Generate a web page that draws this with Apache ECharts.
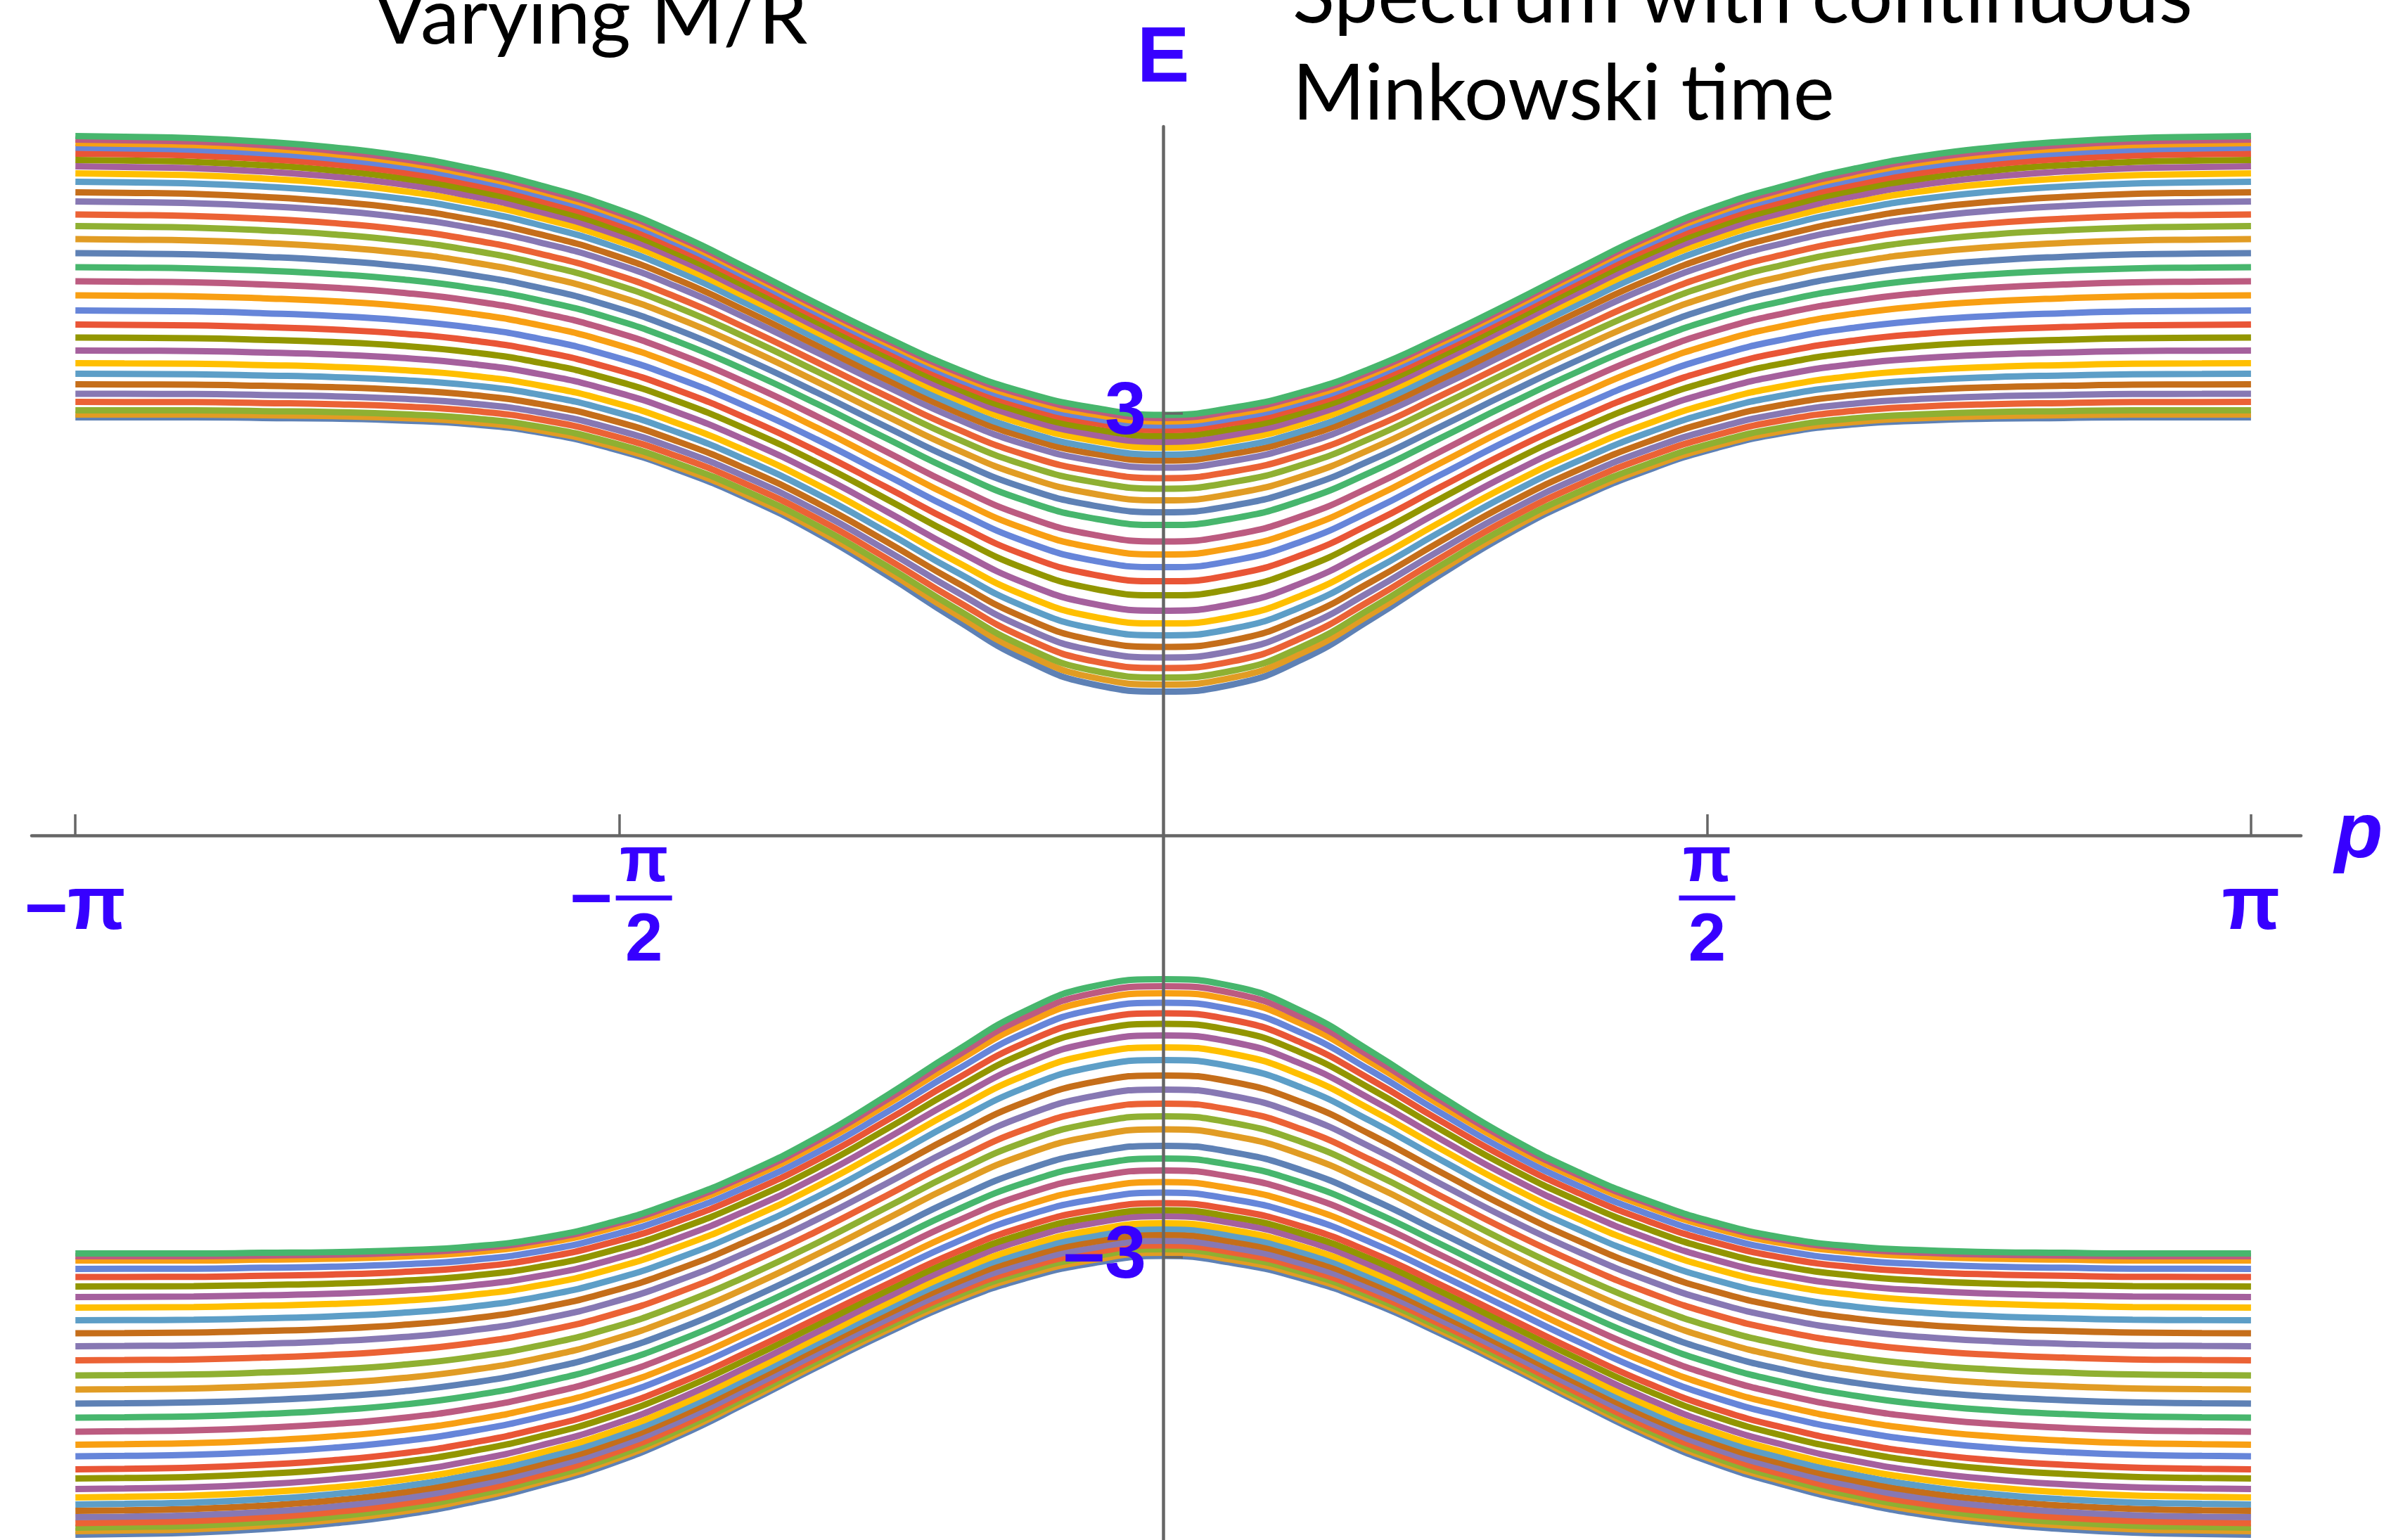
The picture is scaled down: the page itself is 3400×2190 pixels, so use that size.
<!DOCTYPE html>
<html>
<head>
<meta charset="utf-8">
<title>Spectrum with continuous Minkowski time</title>
<script src="https://cdn.jsdelivr.net/npm/echarts@6/dist/echarts.min.js"></script>
<style>
* {
  margin: 0;
  padding: 0;
}
html, body {
  width: 3400px;
  height: 2190px;
  background: #fff;
  overflow: hidden;
}
</style>
</head>
<body>
<div id="chart" style="width:3400px;height:2190px;"></div>
<script>
// momentum samples for p >= 0 (the picture is symmetric in p)
var pRead = [0, 0.2, 0.4, 0.6, 0.8, 1.0, 1.2, 1.4, 1.6, 1.8, 2.0, 2.2, 2.4, 2.6, 2.8, 3.0, 3.1416];
// outermost curve of the upper band
var topCurveE = [2.99, 3.04, 3.15, 3.32, 3.54, 3.78, 4.03, 4.27, 4.47, 4.62, 4.74, 4.83, 4.89, 4.93, 4.955, 4.965, 4.97];
// innermost curve of the upper band
var bottomCurveE = [1.01, 1.06, 1.24, 1.53, 1.85, 2.15, 2.40, 2.605, 2.765, 2.875, 2.935, 2.962, 2.975, 2.98, 2.985, 2.985, 2.985];
// each upper band curve at p = 0, lowest first
var levelAtZero = [1.023, 1.073, 1.123, 1.19, 1.265, 1.34, 1.423, 1.507, 1.598, 1.707,
  1.807, 1.907, 1.998, 2.09, 2.207, 2.298, 2.382, 2.465, 2.54, 2.615,
  2.665, 2.707, 2.757, 2.798, 2.84, 2.882, 2.915, 2.943, 2.968, 2.99];
// the same curves at p = ±π
var levelAtPi = [2.973, 2.993, 3.023, 3.082, 3.14, 3.207, 3.282, 3.357, 3.448, 3.54,
  3.632, 3.732, 3.84, 3.94, 4.04, 4.14, 4.24, 4.332, 4.415, 4.507,
  4.573, 4.648, 4.707, 4.757, 4.803, 4.848, 4.89, 4.923, 4.948, 4.973];
// Mathematica default plot colours
var palette = ['#5E81B5', '#E19C24', '#8FB032', '#EB6235', '#8778B3', '#C56E1A', '#5D9EC7', '#FFBF00',
  '#A5609D', '#929600', '#E95536', '#6685D9', '#F89F13', '#BC5B80', '#47B66D'];
// ticks
var PI = Math.PI;
var xTickValues = [-PI, -PI / 2, PI / 2, PI];
var xTickLabels = ['{b|–π}', '{sp| }{n|π}\n{m|–}{bar| }\n{sp| }{d|2}', '{n|π}\n{bar| }\n{d|2}', '{b|π}'];
var yTickValues = [-3, 3];
var yTickLabels = ['–3', '3'];

var blue = '#3700ff';
var axisGray = '#666666';

// p from -π to π
var pAll = pRead.slice(1).reverse().map(function (p) { return -p; }).concat(pRead);

function shapeOf(curve) {
  var a = curve[0], b = curve[curve.length - 1];
  return curve.map(function (e) { return (e - a) / (b - a); });
}
var topShape = shapeOf(topCurveE);
var bottomShape = shapeOf(bottomCurveE);

var n = levelAtZero.length;
var upperHalves = [];
for (var i = 0; i < n; i++) {
  var w = (levelAtZero[i] - levelAtZero[0]) / (levelAtZero[n - 1] - levelAtZero[0]);
  upperHalves.push(pRead.map(function (p, k) {
    var s = (1 - w) * bottomShape[k] + w * topShape[k];
    return levelAtZero[i] + (levelAtPi[i] - levelAtZero[i]) * s;
  }));
}

function toData(half, sign) {
  var vals = half.slice(1).reverse().concat(half);
  return pAll.map(function (p, j) { return [p, sign * vals[j]]; });
}

function lineSeries(data, color) {
  return {
    type: 'line',
    data: data,
    showSymbol: false,
    smooth: true,
    silent: true,
    lineStyle: { width: 9, color: color },
    itemStyle: { color: color }
  };
}

var series = [];
for (var a = 0; a < n; a++) {
  series.push(lineSeries(toData(upperHalves[a], 1), palette[a % 15]));
}
// lower band mirrors the upper one, colour order runs from the bottom up
for (var b = 0; b < n; b++) {
  series.push(lineSeries(toData(upperHalves[n - 1 - b], -1), palette[b % 15]));
}

var chart = echarts.init(document.getElementById('chart'));
chart.setOption({
  animation: false,
  backgroundColor: '#fff',
  grid: { left: 45, right: 128, top: 180, bottom: 0, containLabel: false, outerBoundsMode: 'none' },
  xAxis: {
    type: 'value',
    min: -3.268,
    max: 3.286,
    position: 'bottom',
    offset: -1002,   // puts the axis at E = 0
    z: 5,
    name: 'p',
    nameLocation: 'end',
    nameGap: 48,
    nameTextStyle: {
      color: blue, fontSize: 112, fontWeight: 'bold', fontStyle: 'italic',
      fontFamily: 'Liberation Sans', verticalAlign: 'middle', align: 'left'
    },
    splitLine: { show: false },
    axisLine: { onZero: false, lineStyle: { color: axisGray, width: 4.5 } },
    axisTick: {
      inside: true, length: 30, customValues: xTickValues,
      lineStyle: { color: axisGray, width: 3.5 }
    },
    axisLabel: {
      customValues: xTickValues,
      margin: 103,
      verticalAlign: 'middle',
      formatter: function (v) {
        for (var k = 0; k < xTickValues.length; k++) {
          if (Math.abs(v - xTickValues[k]) < 1e-6) return xTickLabels[k];
        }
        return '';
      },
      rich: {
        b: { fontSize: 108, fontWeight: 'bold', color: blue, fontFamily: 'Liberation Sans', lineHeight: 100 },
        n: { fontSize: 90, fontWeight: 'bold', color: blue, fontFamily: 'Liberation Sans', lineHeight: 72, width: 80, align: 'center' },
        d: { fontSize: 96, fontWeight: 'bold', color: blue, fontFamily: 'Liberation Sans', lineHeight: 100, width: 80, align: 'center' },
        m: { fontSize: 106, fontWeight: 'bold', color: blue, fontFamily: 'Liberation Sans', lineHeight: 26, width: 70, align: 'center' },
        bar: { fontSize: 6, width: 80, height: 7, lineHeight: 26, backgroundColor: blue, align: 'center' },
        sp: { fontSize: 6, width: 70, lineHeight: 10, align: 'center' }
      }
    }
  },
  yAxis: {
    type: 'value',
    min: -5.01,
    max: 5.04,
    position: 'left',
    offset: -1609,   // puts the axis at p = 0
    z: 5,
    name: 'E',
    nameLocation: 'end',
    nameGap: 95,
    nameTextStyle: {
      color: blue, fontSize: 112, fontWeight: 'bold', fontFamily: 'Liberation Sans',
      verticalAlign: 'middle', align: 'center'
    },
    splitLine: { show: false },
    axisLine: { onZero: false, lineStyle: { color: axisGray, width: 4.5 } },
    axisTick: {
      inside: true, length: 28, customValues: yTickValues,
      lineStyle: { color: axisGray, width: 3.5 }
    },
    axisLabel: {
      customValues: yTickValues,
      margin: 24,
      color: blue,
      fontSize: 106,
      fontWeight: 'bold',
      fontFamily: 'Liberation Sans',
      formatter: function (v) {
        return v < 0 ? yTickLabels[0] : yTickLabels[1];
      }
    }
  },
  graphic: [
    {
      type: 'text', x: 531, y: 26, z: 10,
      style: { text: 'Varying M/R', fontSize: 111, fontFamily: 'Lato', fill: '#000', verticalAlign: 'middle' }
    },
    {
      type: 'text', x: 1838, y: 65, z: 10,
      style: {
        text: 'Spectrum with continuous\nMinkowski time', fontSize: 111, lineHeight: 138,
        fontFamily: 'Lato', fill: '#000', verticalAlign: 'middle'
      }
    }
  ],
  series: series
});
</script>
</body>
</html>
